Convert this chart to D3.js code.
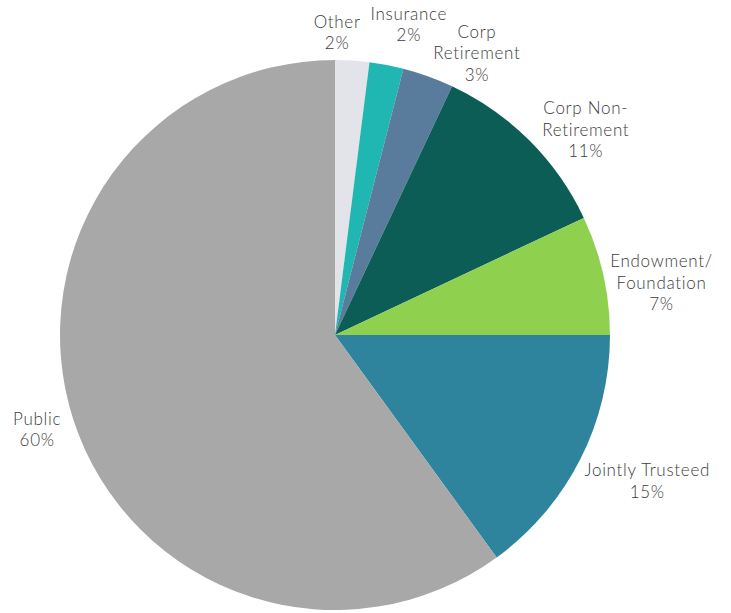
<!DOCTYPE html>
<html>
<head>
<meta charset="utf-8">
<script src="https://cdn.jsdelivr.net/npm/d3@7"></script>
<style>
  html, body { margin: 0; padding: 0; background: #fff; }
  svg { display: block; }
  text { font-family: Lato, "Open Sans", sans-serif; font-weight: 300; }
</style>
</head>
<body>
<svg id="chart" width="731" height="613"></svg>
<script>
// ---- data ----
const categories = ["Other", "Insurance", "Corp Retirement", "Corp Non-Retirement", "Endowment/Foundation", "Jointly Trusteed", "Public"];
const values = [2, 2, 3, 11, 7, 15, 60];
const labelLines = [
  ["Other", "2%"],
  ["Insurance", "2%"],
  ["Corp", "Retirement", "3%"],
  ["Corp Non-", "Retirement", "11%"],
  ["Endowment/", "Foundation", "7%"],
  ["Jointly Trusteed", "15%"],
  ["Public", "60%"]
];
const colors = ["#e3e3ea", "#20b6b1", "#5a7c9c", "#0b5d56", "#8fd14f", "#2e849c", "#a8a8a8"];

// ---- layout ----
const W = 731, H = 613;
const cx = 335, cy = 335, R = 275;
// label placement: radius and angle (degrees) per label, relative to pie centre
const labelPlace = [
  {r: 304, a: 0.4},
  {r: 321, a: 13.3},
  {r: 317, a: 26.6},
  {r: 325, a: 50.5},
  {r: 331, a: 80.6},
  {r: 344, a: 114.8},
  {r: 312, a: 252.7}
];
const lineH = 21.5;

const svg = d3.select("#chart");
const g = svg.append("g").attr("transform", `translate(${cx},${cy})`);

const pie = d3.pie().sort(null).value(d => d.value);
const arcs = pie(categories.map((c, i) => ({name: c, value: values[i], idx: i})));
const arc = d3.arc().innerRadius(0).outerRadius(R);

g.selectAll("path.slice")
  .data(arcs)
  .join("path")
  .attr("class", "slice")
  .attr("d", arc)
  .attr("fill", d => colors[d.data.idx]);

const lab = g.selectAll("text.lab")
  .data(arcs)
  .join("text")
  .attr("class", "lab")
  .attr("text-anchor", "middle")
  .attr("fill", "#3c3c3c")
  .attr("font-size", 17)
  .attr("letter-spacing", 0.7)
  .attr("transform", d => {
    const p = labelPlace[d.data.idx];
    const a = p.a * Math.PI / 180;
    return `translate(${p.r * Math.sin(a)},${-p.r * Math.cos(a)})`;
  });

lab.each(function(d) {
  const lines = labelLines[d.data.idx];
  const n = lines.length;
  d3.select(this).selectAll("tspan")
    .data(lines)
    .join("tspan")
    .attr("x", 0)
    .attr("y", (l, i) => (i - (n - 1) / 2) * lineH)
    .attr("dy", "0.45em")
    .text(l => l);
});
</script>
</body>
</html>
